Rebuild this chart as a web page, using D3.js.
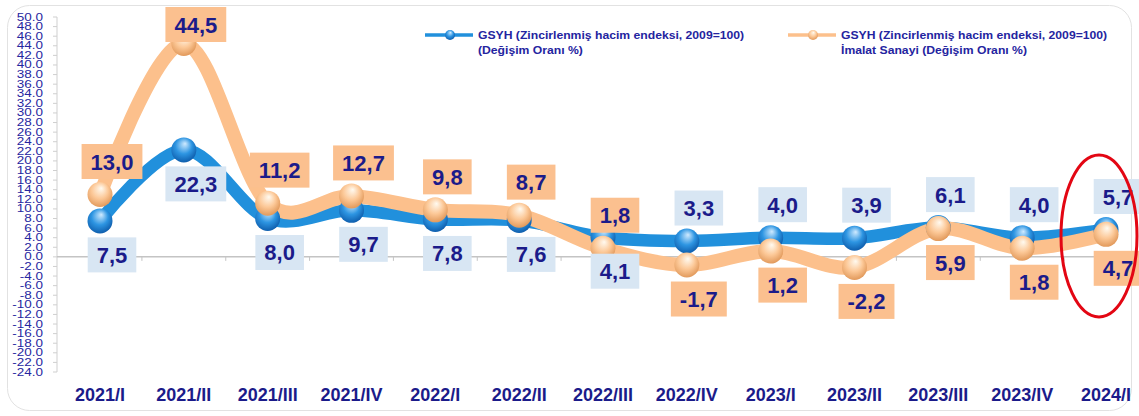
<!DOCTYPE html>
<html>
<head>
<meta charset="utf-8">
<title>GSYH ve İmalat Sanayi</title>
<script src="https://cdn.jsdelivr.net/npm/d3@7"></script>
<style>
  body { margin: 0; background: #fff; }
  svg text { font-family: "Liberation Sans", Arial, sans-serif; }
</style>
</head>
<body>
<div id="chart"></div>

<script type="text/javascript">
	// data
	var categories = ["2021/I", "2021/II", "2021/III", "2021/IV", "2022/I", "2022/II", "2022/III",
		"2022/IV", "2023/I", "2023/II", "2023/III", "2023/IV", "2024/I"];
	var gsyh = [7.5, 22.3, 8.0, 9.7, 7.8, 7.6, 4.1, 3.3, 4.0, 3.9, 6.1, 4.0, 5.7];
	var imalat = [13.0, 44.5, 11.2, 12.7, 9.8, 8.7, 1.8, -1.7, 1.2, -2.2, 5.9, 1.8, 4.7];
	// which series gets its value box above the point
	var upperLabel = ["imalat", "imalat", "imalat", "imalat", "imalat", "imalat", "imalat",
		"gsyh", "gsyh", "gsyh", "gsyh", "gsyh", "gsyh"];
	var yTicks = d3.range(-24, 50.1, 2);
	var legendLines = {
		gsyh: ["GSYH (Zincirlenmiş hacim endeksi, 2009=100)", "(Değişim Oranı %)"],
		imalat: ["GSYH (Zincirlenmiş hacim endeksi, 2009=100)", "İmalat Sanayi (Değişim Oranı %)"]
	};

	var width = 1139, height = 416;
	var navy = "#1b1b8a";

	var svg = d3.select("#chart").append("svg")
		.attr("width", width)
		.attr("height", height);

	var defs = svg.append("defs");
	function ball(id, c0, c1, c2) {
		var g = defs.append("radialGradient").attr("id", id)
			.attr("cx", "45%").attr("cy", "40%").attr("r", "60%")
			.attr("fx", "55%").attr("fy", "25%");
		g.append("stop").attr("offset", "0%").attr("stop-color", c0);
		g.append("stop").attr("offset", "55%").attr("stop-color", c1);
		g.append("stop").attr("offset", "100%").attr("stop-color", c2);
	}
	ball("blueBall", "#cfeaff", "#2d95e2", "#0f5fae");
	ball("orangeBall", "#fffaf0", "#fcc897", "#e29a5c");

	// frame
	svg.append("rect")
		.attr("x", 7.5).attr("y", 5.5)
		.attr("width", 1124).attr("height", 405)
		.attr("rx", 22)
		.style("fill", "#fff")
		.style("stroke", "#e2e2e2");

	var x = d3.scalePoint().domain(categories).range([100, 1106]);
	var y = d3.scaleLinear().domain([-24, 50]).range([372, 17]);
	var step = x.step();

	// y axis: line, ticks and the tiny stacked labels
	svg.append("line")
		.attr("x1", 57).attr("x2", 57)
		.attr("y1", y(50)).attr("y2", y(-24))
		.style("stroke", "#cfcfcf");
	svg.selectAll("line.ytick").data(yTicks).enter().append("line")
		.attr("class", "ytick")
		.attr("x1", 53).attr("x2", 57)
		.attr("y1", function(d) { return y(d); })
		.attr("y2", function(d) { return y(d); })
		.style("stroke", "#cfcfcf");
	svg.selectAll("text.ylab").data(yTicks).enter().append("text")
		.attr("class", "ylab")
		.attr("transform", function(d) { return "translate(43," + (y(d) + 3.5) + ") scale(1.35,1)"; })
		.attr("text-anchor", "end")
		.style("font-size", "10px")
		.style("fill", "#2626a0")
		.text(function(d) { return d3.format(".1f")(d).replace("−", "-"); });

	// zero line with small ticks between categories
	svg.append("line")
		.attr("x1", 57).attr("x2", 1130)
		.attr("y1", y(0)).attr("y2", y(0))
		.style("stroke", "#c4c4c4")
		.style("stroke-width", 1.5);
	svg.selectAll("line.xtick").data(categories.slice(0, -1)).enter().append("line")
		.attr("class", "xtick")
		.attr("x1", function(d) { return x(d) + step / 2; })
		.attr("x2", function(d) { return x(d) + step / 2; })
		.attr("y1", y(0)).attr("y2", y(0) + 4)
		.style("stroke", "#c4c4c4");

	// category labels
	svg.selectAll("text.cat").data(categories).enter().append("text")
		.attr("class", "cat")
		.attr("x", function(d) { return x(d); })
		.attr("y", 401)
		.attr("text-anchor", "middle")
		.style("font-size", "18px")
		.style("font-weight", "bold")
		.style("fill", navy)
		.text(function(d) { return d; });

	// lines
	var line = d3.line()
		.x(function(d, i) { return x(categories[i]); })
		.y(function(d) { return y(d); })
		.curve(d3.curveCardinal.tension(0));

	svg.append("path").datum(gsyh)
		.attr("d", line)
		.style("fill", "none")
		.style("stroke", "#2190dc")
		.style("stroke-width", 12.5)
		.style("stroke-linejoin", "round");
	svg.append("path").datum(imalat)
		.attr("d", line)
		.style("fill", "none")
		.style("stroke", "#fcc08c")
		.style("stroke-width", 14)
		.style("stroke-linejoin", "round");

	// balls
	svg.selectAll("circle.blue").data(gsyh).enter().append("circle")
		.attr("class", "blue")
		.attr("cx", function(d, i) { return x(categories[i]); })
		.attr("cy", function(d) { return y(d); })
		.attr("r", 12.5)
		.style("fill", "url(#blueBall)");
	svg.selectAll("circle.orange").data(imalat).enter().append("circle")
		.attr("class", "orange")
		.attr("cx", function(d, i) { return x(categories[i]); })
		.attr("cy", function(d) { return y(d); })
		.attr("r", 12.5)
		.style("fill", "url(#orangeBall)");

	// value boxes
	var fmt = d3.formatLocale({ decimal: ",", thousands: ".", grouping: [3], currency: ["", ""], minus: "-" }).format(".1f");
	function labels(values, key, boxColor) {
		var g = svg.selectAll("g." + key).data(values).enter().append("g")
			.attr("class", key);
		g.append("text")
			.attr("text-anchor", "middle")
			.style("font-size", "22px")
			.style("font-weight", "bold")
			.style("fill", navy)
			.text(function(d) { return fmt(d); });
		g.each(function(d, i) {
			var node = d3.select(this);
			var w = node.select("text").node().getComputedTextLength() + 18, h = 35;
			var cx = x(categories[i]) + 12;
			var cy = y(d) + (upperLabel[i] === key ? -33 : 34);
			if (cy - h / 2 < 7) cy = 7 + h / 2;
			node.insert("rect", "text")
				.attr("x", cx - w / 2).attr("y", cy - h / 2)
				.attr("width", w).attr("height", h)
				.style("fill", boxColor);
			node.select("text").attr("x", cx).attr("y", cy + 8);
		});
	}
	labels(gsyh, "gsyh", "#d8e6f3");
	labels(imalat, "imalat", "#fbc08f");

	// red ellipse round the last quarter
	var last = categories[categories.length - 1];
	svg.append("ellipse")
		.attr("cx", x(last) - 7)
		.attr("cy", (y(gsyh[gsyh.length - 1]) + y(imalat[imalat.length - 1])) / 2 + 4)
		.attr("rx", 38).attr("ry", 81)
		.style("fill", "none")
		.style("stroke", "#e30613")
		.style("stroke-width", 3);

	// legend (the text is stretched sideways in the original)
	function legend(key, x0, color, ballId) {
		var g = svg.append("g").attr("transform", "translate(" + x0 + ",35)");
		g.append("line").attr("x1", 0).attr("x2", 48)
			.style("stroke", color).style("stroke-width", 3.5);
		g.append("circle").attr("cx", 25).attr("r", 5)
			.style("fill", "url(#" + ballId + ")");
		g.selectAll("text").data(legendLines[key]).enter().append("text")
			.attr("transform", function(d, i) { return "translate(53," + (4 + i * 15) + ") scale(1.16,1)"; })
			.style("font-size", "10.5px")
			.style("font-weight", "bold")
			.style("fill", "#2424a0")
			.text(function(d) { return d; });
	}
	legend("gsyh", 425, "#2190dc", "blueBall");
	legend("imalat", 788, "#fcc08c", "orangeBall");
</script>
</body>
</html>
